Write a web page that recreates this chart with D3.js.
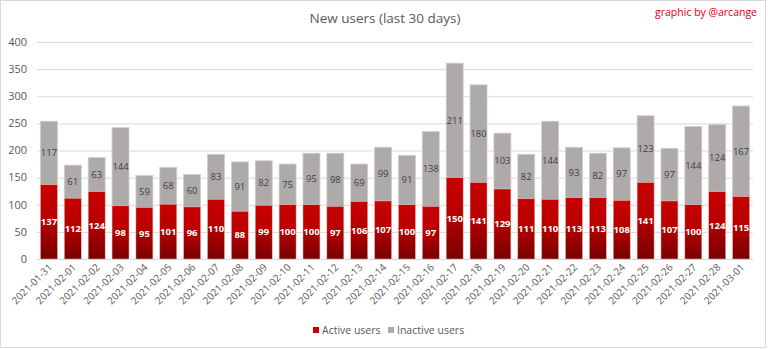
<!DOCTYPE html>
<html><head><meta charset="utf-8">
<script src="https://cdn.jsdelivr.net/npm/d3@7"></script>
<style>body{margin:0;background:#fff}svg{display:block;font-family:"Open Sans","Noto Sans",sans-serif}</style>
</head><body>
<svg id="c" width="768" height="349"></svg>
<script>
const dates = ["2021-01-31","2021-02-01","2021-02-02","2021-02-03","2021-02-04","2021-02-05","2021-02-06","2021-02-07","2021-02-08","2021-02-09","2021-02-10","2021-02-11","2021-02-12","2021-02-13","2021-02-14","2021-02-15","2021-02-16","2021-02-17","2021-02-18","2021-02-19","2021-02-20","2021-02-21","2021-02-22","2021-02-23","2021-02-24","2021-02-25","2021-02-26","2021-02-27","2021-02-28","2021-03-01"];
const activeUsers = [137,112,124,98,95,101,96,110,88,99,100,100,97,106,107,100,97,150,141,129,111,110,113,113,108,141,107,100,124,115];
const inactiveUsers = [117,61,63,144,59,68,60,83,91,82,75,95,98,69,99,91,138,211,180,103,82,144,93,82,97,123,97,144,124,167];
const yTicks = [0,50,100,150,200,250,300,350,400];
const seriesNames = ["Active users","Inactive users"];

const svg = d3.select("#c");
const W = 768, H = 349;
const m = {l:37, r:15, t:42, b:90};
svg.append("rect").attr("x",0.5).attr("y",0.5).attr("width",W-3).attr("height",H-2).attr("fill","#fff").attr("stroke","#d9d9d9");

const defs = svg.append("defs");
const g1 = defs.append("linearGradient").attr("id","redg").attr("x1",0).attr("y1",0).attr("x2",0).attr("y2",1);
g1.append("stop").attr("offset","0%").attr("stop-color","#c80000");
g1.append("stop").attr("offset","45%").attr("stop-color","#b80000");
g1.append("stop").attr("offset","100%").attr("stop-color","#780000");

const x = d3.scaleBand().domain(dates).range([m.l, W - m.r]).paddingInner(0.29).paddingOuter(0.145);
const y = d3.scaleLinear().domain([0,400]).range([259, 42]);

// grid
svg.append("g").selectAll("line").data(yTicks).join("line")
  .attr("x1", m.l).attr("x2", W - m.r)
  .attr("y1", d => y(d)+0.5).attr("y2", d => y(d)+0.5)
  .attr("stroke","#d9d9d9").attr("stroke-width",1);

// y labels
svg.append("g").selectAll("text").data(yTicks).join("text")
  .attr("x", 27).attr("y", d => y(d)).attr("dy","0.35em")
  .attr("text-anchor","end").attr("font-size",11).attr("fill","#595959").text(d => d);

const stackData = dates.map((d,i) => ({date:d, active:activeUsers[i], inactive:inactiveUsers[i]}));
const stack = d3.stack().keys(["active","inactive"])(stackData);

// inactive bars
svg.append("g").selectAll("rect").data(stack[1]).join("rect")
  .attr("x", d => x(d.data.date)).attr("width", x.bandwidth())
  .attr("y", d => y(d[1])).attr("height", d => y(d[0]) - y(d[1]))
  .attr("fill","#aeaaaa").attr("stroke","#d0cece").attr("stroke-width",0.8);
// active bars
svg.append("g").selectAll("rect").data(stack[0]).join("rect")
  .attr("x", d => x(d.data.date)).attr("width", x.bandwidth())
  .attr("y", d => y(d[1])).attr("height", d => y(d[0]) - y(d[1]))
  .attr("fill","url(#redg)").attr("stroke","#e6b0b0").attr("stroke-width",0.5);

// labels
svg.append("g").selectAll("text").data(stack[0]).join("text")
  .attr("x", d => x(d.data.date) + x.bandwidth()/2)
  .attr("y", d => (y(d[0]) + y(d[1]))/2).attr("dy","0.35em")
  .attr("text-anchor","middle").attr("font-size",9.5).attr("font-weight","bold").attr("fill","#fff")
  .text(d => d.data.active);
svg.append("g").selectAll("text").data(stack[1]).join("text")
  .attr("x", d => x(d.data.date) + x.bandwidth()/2)
  .attr("y", d => (y(d[0]) + y(d[1]))/2).attr("dy","0.35em")
  .attr("text-anchor","middle").attr("font-size",9.5).attr("fill","#404040")
  .text(d => d.data.inactive);

// x labels
svg.append("g").selectAll("text").data(dates).join("text")
  .attr("transform", d => `translate(${x(d) + x.bandwidth()/2 + 4},${268}) rotate(-45)`)
  .attr("text-anchor","end").attr("font-size",10).attr("fill","#595959").text(d => d);

// title
svg.append("text").attr("x", 385).attr("y", 23).attr("text-anchor","middle")
  .attr("font-size",13.5).attr("fill","#595959").text("New users (last 30 days)");
svg.append("text").attr("x", 757).attr("y", 16).attr("text-anchor","end")
  .attr("font-size",10.5).attr("fill","#e00000").text("graphic by @arcange");

// legend
const lg = svg.append("g");
const legendColors = ["#c00000","#aeaaaa"];
const lx = [313, 388];
seriesNames.forEach((n,i) => {
  lg.append("rect").attr("x", lx[i]).attr("y", 327).attr("width",6).attr("height",6).attr("fill",legendColors[i]);
  lg.append("text").attr("x", lx[i]+9).attr("y", 330).attr("dy","0.35em").attr("font-size",10.5).attr("fill","#595959").text(n);
});
</script>
</body></html>
